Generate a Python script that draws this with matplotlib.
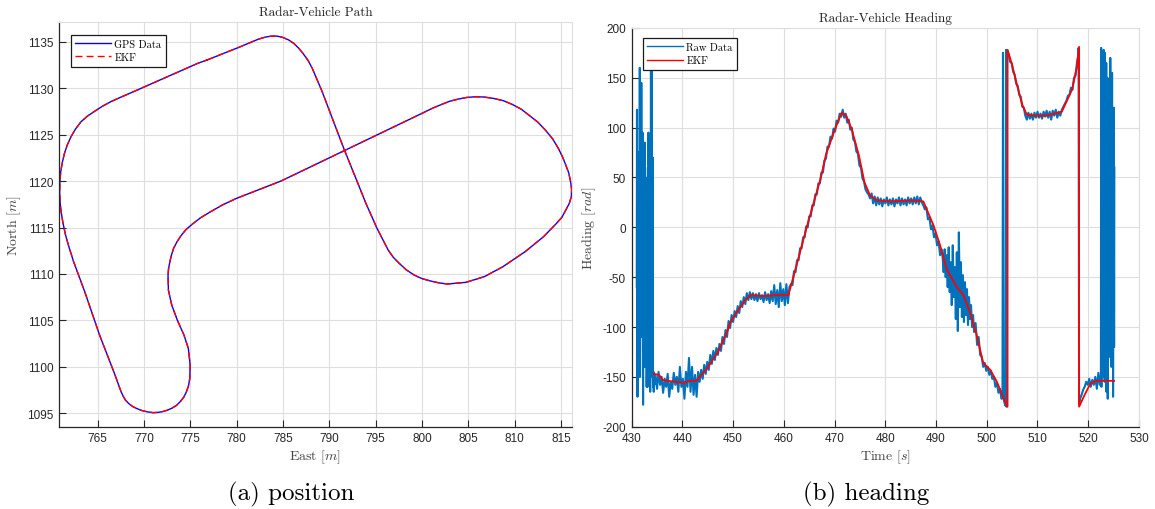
import numpy as np
import matplotlib
matplotlib.use("Agg")
import matplotlib.pyplot as plt

plt.rcParams['font.family'] = ['Liberation Sans', 'DejaVu Sans']
plt.rcParams['mathtext.fontset'] = 'cm'
plt.rcParams['axes.unicode_minus'] = False

# ---- position data (East / North, metres) ----
east = [776.78, 780.38, 782.37, 783.1, 783.77, 784.4, 784.97, 785.6, 786.17, 786.7,
        787.16, 787.7, 788.16, 789.16, 791.56, 793.95, 795.15, 796.35, 796.9, 797.55,
        798.3, 799.15, 800.0, 800.94, 801.8, 802.74, 804.74, 806.73, 808.73, 811.13,
        813.12, 814.52, 815.1, 815.52, 815.9, 816.12, 816.15, 816.04, 815.85, 815.52,
        815.15, 814.72, 814.1, 813.32, 812.5, 811.53, 810.7, 809.73, 808.8, 807.73,
        806.7, 805.74, 804.8, 803.94, 803.0, 802.14, 801.1, 800.14, 784.77, 779.98,
        778.5, 777.18, 776.1, 775.18, 774.5, 773.99, 773.55, 773.19, 772.95, 772.79,
        772.65, 772.59, 772.63, 772.99, 773.59, 774.31, 774.78, 774.98, 774.94, 774.8,
        774.58, 774.3, 773.91, 773.5, 772.99, 772.5, 771.99, 771.5, 770.99, 770.4,
        769.79, 769.3, 768.79, 768.35, 767.99, 767.75, 767.52, 766.80, 765.20, 763.60,
        762.40, 761.9, 761.53, 761.25, 761.05, 760.93, 760.89, 760.92, 761.01, 761.18,
        761.41, 761.72, 762.12, 762.6, 763.2, 763.9, 764.6, 765.5, 766.4, 767.3,
        768.19, 775.78]
north = [1133.03, 1134.46, 1135.29, 1135.5, 1135.61, 1135.6, 1135.47, 1135.2, 1134.82, 1134.3,
         1133.74, 1133.0, 1132.13, 1129.80, 1123.52, 1117.60, 1114.91, 1112.58, 1111.8, 1111.14,
         1110.45, 1109.89, 1109.5, 1109.24, 1109.05, 1108.92, 1109.10, 1109.71, 1110.78, 1112.40,
         1114.01, 1115.45, 1116.1, 1116.88, 1117.6, 1118.32, 1119.1, 1119.93, 1120.85, 1121.73,
         1122.65, 1123.52, 1124.55, 1125.49, 1126.35, 1127.11, 1127.75, 1128.26, 1128.65, 1128.90,
         1129.05, 1129.08, 1129.0, 1128.83, 1128.6, 1128.26, 1127.83, 1127.36, 1120.00, 1118.14,
         1117.45, 1116.70, 1116.05, 1115.34, 1114.75, 1114.12, 1113.45, 1112.76, 1112.0, 1111.32,
         1110.6, 1109.89, 1108.27, 1106.66, 1105.04, 1103.43, 1102.00, 1100.20, 1098.77, 1097.95,
         1097.33, 1096.75, 1096.26, 1095.85, 1095.54, 1095.33, 1095.18, 1095.1, 1095.07, 1095.15,
         1095.29, 1095.48, 1095.72, 1096.05, 1096.43, 1096.85, 1097.33, 1099.31, 1103.43, 1108.09,
         1111.32, 1112.9, 1114.19, 1115.5, 1116.70, 1117.8, 1118.86, 1120.0, 1121.01, 1122.0,
         1122.98, 1123.9, 1124.78, 1125.6, 1126.39, 1127.0, 1127.47, 1128.05, 1128.54, 1128.95,
         1129.33, 1132.67]

# ---- heading: EKF estimate ----
ekf_time = [434.3, 435.4, 436.1, 437.2, 440.1, 441.6, 442.7, 444.8, 447.0, 448.8,
            449.5, 451.0, 452.4, 453.5, 456.0, 458.2, 460.9, 462.5, 464.5, 467.3,
            468.3, 470.2, 471.4, 472.3, 473.4, 474.8, 475.9, 477.0, 478.4, 481.3,
            485.0, 487.5, 489.5, 490.8, 492.1, 494.1, 495.4, 496.7, 498.0, 499.3,
            500.7, 502.0, 503.6, 504.1, 504.1, 505.0, 506.0, 507.0, 507.9, 509.5,
            511.7, 514.8, 515.8, 516.8, 517.8, 518.2, 518.2, 519.3, 520.4, 521.5,
            525.1]
ekf_heading = [-147, -148, -153, -154, -156, -154, -154, -142, -125, -105,
               -95, -83, -73, -68, -69, -68, -68, -38, 0, 50,
               73, 100, 115, 112, 98, 72, 45, 32, 27, 26,
               27, 26, 2, -18, -42, -60, -68, -85, -108, -136,
               -143, -155, -175, -180, 178, 163, 142, 123, 113, 112,
               112, 116, 127, 138, 162, 181, -180, -168, -157, -154,
               -154]

# ---- heading: raw data, segments of (start time, sample step, values) ----
raw_a = (431.0, 0.05, [-60, 118, -120, -170, 40, -20, -90, 75, 10, -130, 20, -60, 160, -150, -40,
                       60, -100, -40, 145, 30, -110, 30, -80, 95, -20, -178, 10, -130, -60, 70,
                       -50, -140, 85, 0, -30, 50, -100, -120, 20, -160, -90, 40, -40, -160, 60,
                       -120, 95, -150, 30, -100, 90, -140, -60, -165, 40, -120, 158, -150, -90,
                       160, -140, -100, -150, 70, -155, -160, -145, -165, -150, -158])
raw_b = (434.7, 0.3, [-148, -162, -145, -158, -150, -166, -152, -160, -147, -170, -155, -162, -146,
                      -158, -150, -165, -140, -160, -152, -172, -145, -160, -131, -165, -140, -168,
                      -148, -170, -145, -155])
raw_c = (443.7, 0.3, [-143, -152, -138, -147, -135, -143, -128, -137, -124, -133, -121, -128, -117,
                      -124, -110, -117, -103, -110, -94, -101, -88, -95, -84, -90, -79, -86, -74,
                      -80, -70, -77, -66, -73, -65])
raw_d = (453.6, 0.3, [-72, -66, -73, -67, -74, -66, -72, -68, -75, -65, -73, -67, -76, -64, -74, -58,
                      -77, -63, -80, -56, -74, -62, -78, -57, -76, -60])
raw_e = (461.4, 0.3, [-57, -58, -44, -45, -33, -33, -21, -21, -10, -10, 1, 0, 11, 11, 22, 22, 33, 33,
                      44, 44, 55, 55, 67, 69, 81, 81, 91, 89, 99, 96, 107, 105, 114, 111, 118, 110])
raw_f = (472.2, 0.3, [114, 105, 108, 98, 100, 88, 86, 76, 74, 62, 60, 49, 46, 38, 35, 33, 29])
raw_g = (477.3, 0.3, [34, 24, 31, 22, 30, 23, 29, 21, 28, 24, 30, 22, 28, 23, 29, 21, 28, 24, 30, 22,
                      29, 23, 28, 22, 30, 24, 29, 23, 30, 24, 31, 23, 30, 25])
raw_h = (487.5, 0.3, [22, 18, 20, 8, 10, -2, 2, -10, -6, -18, -14, -28, -22])
raw_i = (491.3, 0.2, [-30, -45, -22, -50, -28, -60, -20, -65, -35, -78, -18, -70, -40, -92, -25, -104,
                      -5, -80, -35, -90, -48, -95, -55, -88, -62, -98, -70, -92, -78, -100, -88])
raw_j = (497.5, 0.3, [-105, -96, -118, -110, -128, -130, -140, -136, -144, -140, -148, -144, -152,
                      -150, -160, -156, -166, -162, -172])
raw_wrap1 = (503.1, 0.1, [-170, 175, -172, -174, -176, -178, -179, 178, -180, 178])
raw_k = (504.3, 0.3, [174, 166, 165, 156, 153, 144, 142, 133, 131, 121, 120, 112])
raw_l = (507.9, 0.3, [108, 115, 109, 114, 108, 115, 110, 116, 110, 114, 109, 116, 111, 117, 110, 116,
                      108, 117, 112, 118, 110, 116, 112, 118])
raw_m = (515.1, 0.3, [121, 124, 127, 132, 133, 140, 138, 150, 152, 166])
raw_wrap2 = (518.0, 0.1, [172, 180, -178, -175])
raw_n = (518.4, 0.3, [-172, -168, -163, -160, -155, -158, -152, -160, -153, -158, -150, -162, -146, -158])
raw_o = (522.5, 0.05, [-150, 180, -160, 60, -120, 120, -30, -150, 150, 20, -80, 178, -60, 100, -130,
                       -155, 175, -40, 130, 40, -100, 165, -165, 70, -20, -120, 150, -172, 140, -30,
                       105, -90, -10, 60, -130, 110, -60, 170, -110, 30, 130, -140, 80, -50, 155,
                       -100, 20, 100, -170, 50, -40, 120, -120, 60])

raw_segments = [raw_a, raw_b, raw_c, raw_d, raw_e, raw_f, raw_g, raw_h, raw_i, raw_j,
                raw_wrap1, raw_k, raw_l, raw_m, raw_wrap2, raw_n, raw_o]

SERIF = 'cmr10'
GRID = '#dedede'
DARK = '#262626'


def styleAxes(ax):
    ax.grid(True, color=GRID, linewidth=0.8)
    ax.set_axisbelow(True)
    for side in ['left', 'bottom']:
        ax.spines[side].set_color(DARK)
        ax.spines[side].set_linewidth(0.9)
    for side in ['top', 'right']:
        ax.spines[side].set_color(GRID)
        ax.spines[side].set_linewidth(0.8)
    ax.tick_params(direction='in', length=5, width=0.8, color=DARK,
                   labelsize=8.5, labelcolor=DARK, top=False, right=False, pad=4)


def addLegend(ax, anchor):
    leg = ax.legend(loc='upper left', bbox_to_anchor=anchor, borderaxespad=0,
                    prop={'family': SERIF, 'size': 7.5}, handlelength=3.4,
                    handletextpad=0.35, labelspacing=0.35, borderpad=0.45,
                    fancybox=False, framealpha=1, edgecolor='#1a1a1a')
    leg.get_frame().set_linewidth(0.9)
    for line in leg.get_lines():
        line.set_linewidth(1.0)


def rawSeries():
    times, values = [], []
    for t0, dt, vals in raw_segments:
        times.extend(t0 + dt * np.arange(len(vals)))
        values.extend(vals)
    return np.array(times), np.array(values)


fig = plt.figure(figsize=(11.55, 5.10), dpi=100)

# (a) position
ax1 = fig.add_axes([0.0513, 0.1614, 0.4436, 0.7930])
ax1.plot(east + east[:1], north + north[:1], color='#0000ff', linewidth=1.0, label='GPS Data')
ax1.plot(east + east[:1], north + north[:1], color='#ff0000', linewidth=1.0,
         linestyle=(0, (5, 3)), label='EKF')
ax1.set_xlim(760.85, 816.15)
ax1.set_ylim(1093.56, 1137.1)
ax1.set_xticks(np.arange(765, 816, 5))
ax1.set_yticks(np.arange(1095, 1136, 5))
styleAxes(ax1)
ax1.set_title('Radar-Vehicle Path', fontfamily=SERIF, fontsize=9.5, color='#222222', pad=5)
ax1.set_xlabel('East [$m$]', fontfamily=SERIF, fontsize=10, color='#444444', labelpad=2)
ax1.set_ylabel('North [$m$]', fontfamily=SERIF, fontsize=10, color='#444444', labelpad=3)
addLegend(ax1, (0.0222, 0.9693))

# (b) heading
raw_time, raw_heading = rawSeries()
ax2 = fig.add_axes([0.5469, 0.1614, 0.4392, 0.7818])
ax2.plot(raw_time, raw_heading, color='#0072BD', linewidth=1.5, label='Raw Data')
ax2.plot(ekf_time, ekf_heading, color='#ff0000', linewidth=1.3, label='EKF')
ax2.set_xlim(430, 530)
ax2.set_ylim(-200, 200)
ax2.set_xticks(np.arange(430, 531, 10))
ax2.set_yticks(np.arange(-200, 201, 50))
styleAxes(ax2)
ax2.set_title('Radar-Vehicle Heading', fontfamily=SERIF, fontsize=9.5, color='#222222', pad=5)
ax2.set_xlabel('Time [$s$]', fontfamily=SERIF, fontsize=10, color='#444444', labelpad=2)
ax2.set_ylabel('Heading [$rad$]', fontfamily=SERIF, fontsize=10, color='#444444', labelpad=3)
addLegend(ax2, (0.0217, 0.975))

fig.text(0.2518, 1 - 494 / 510, '(a) position', ha='center', va='center',
         fontfamily=SERIF, fontsize=18)
fig.text(0.750, 1 - 494 / 510, '(b) heading', ha='center', va='center',
         fontfamily=SERIF, fontsize=18)

fig.savefig('out.png', dpi=100)
